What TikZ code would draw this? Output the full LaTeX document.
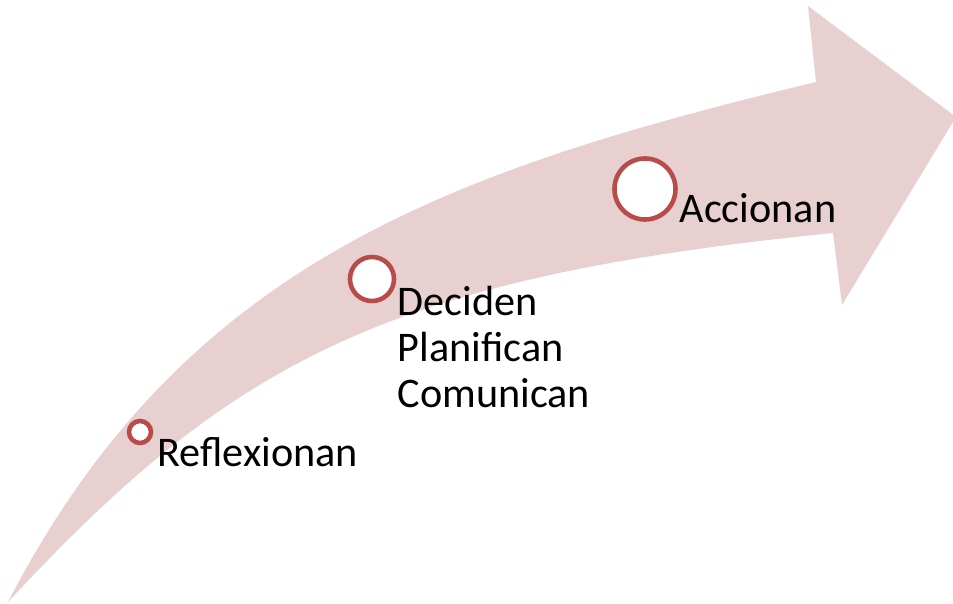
\documentclass[tikz,border=0pt]{standalone}
\usepackage{fontspec}
\setmainfont{Carlito}
\definecolor{bandpink}{RGB}{232,208,209}
\definecolor{ringred}{RGB}{183,76,72}
\tikzset{
	ring/.style={circle, draw=ringred, fill=white, line width=1.3pt, inner sep=0pt},
	lbl/.style={anchor=base west, align=left, inner sep=0pt, font=\fontsize{12}{13.2}\selectfont}
}
\begin{document}
\begin{tikzpicture}[x=0.01cm, y=-0.01cm]
		\useasboundingbox (0,0) rectangle (953,604);
		% curved band with arrow head
		\fill[bandpink] (8,602) .. controls (183,264) and (447,171) .. (816,82)
		-- (808,6) -- (956,117) -- (842,305) -- (833,233)
		.. controls (385,278) and (232,361) .. (8,602) -- cycle;

		\node[ring, minimum size=0.22cm] (R) at (140,432) {};
		\node[ring, minimum size=0.44cm] (D) at (372,279) {};
		\node[ring, minimum size=0.61cm] (A) at (645,189) {};

		% base west of a multi-line label sits on its last line
		\node[lbl] (RT) at (157,467) {Reflexionan};
		\node[lbl] (DT) at (397,408) {Deciden\\Planifican\\Comunican};
		\node[lbl] (AT) at (679,223) {Accionan};

	\end{tikzpicture}
\end{document}
